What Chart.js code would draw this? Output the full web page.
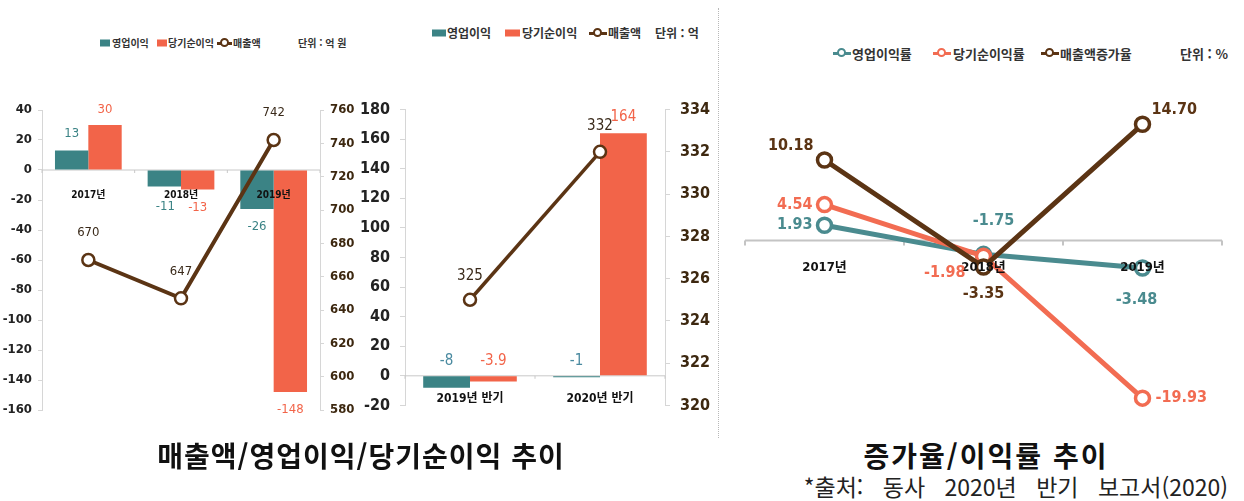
<!DOCTYPE html>
<html lang="ko">
<head>
<meta charset="utf-8">
<script src="https://cdn.jsdelivr.net/npm/chart.js@4"></script>
<style>
  body { margin: 0; background: #fff; }
  #page { position: relative; width: 1244px; height: 501px; overflow: hidden; background: #fff; }
  .box { position: absolute; }
  .lg { position: absolute; font-family: "Noto Sans CJK KR", sans-serif; font-weight: bold; color: #333;
        white-space: nowrap; line-height: 1; transform: translateY(-50%); }
  .sq { position: absolute; height: 7px; transform: translateY(-50%); }
  .lm { position: absolute; width: 18px; height: 12px; transform: translateY(-50%); }
  .lm::before { content: ""; position: absolute; left: 0; right: 0; top: 50%; height: 3px; margin-top: -1.5px; background: var(--c); }
  .lm::after { content: ""; position: absolute; left: 50%; top: 50%; width: 5px; height: 5px; margin: -5px 0 0 -5px;
               border: 2.5px solid var(--c); border-radius: 50%; background: #fff; }
  .title { position: absolute; font-family: "Noto Sans CJK KR", sans-serif; font-weight: bold; font-size: 28px;
           color: #111; text-align: center; line-height: 1; }
  #src { position: absolute; right: 16px; top: 475px; font-family: "Noto Sans CJK KR", sans-serif; font-size: 23px;
         color: #222; line-height: 1; word-spacing: 13px; white-space: nowrap; }
  #sep { position: absolute; left: 718px; top: 8px; height: 430px; border-left: 1px dotted #b8b8b8; }
</style>
</head>
<body>
<div id="page">
  <!-- left chart legend -->
  <div class="sq" style="left:100px;top:43px;width:10px;background:#3b8385"></div>
  <div class="lg" style="left:112px;top:43px;font-size:10px">영업이익</div>
  <div class="sq" style="left:157px;top:43px;width:10px;background:#f26449"></div>
  <div class="lg" style="left:168px;top:43px;font-size:10px">당기순이익</div>
  <div class="lm" style="left:217px;top:43px;width:15px;--c:#5b3414"></div>
  <div class="lg" style="left:233px;top:43px;font-size:10px">매출액</div>
  <div class="lg" style="left:298px;top:43px;font-size:10px">단위 : 억 원</div>

  <!-- middle chart legend -->
  <div class="sq" style="left:432px;top:33px;width:14px;background:#3b8385"></div>
  <div class="lg" style="left:447px;top:33px;font-size:12px">영업이익</div>
  <div class="sq" style="left:505px;top:33px;width:15px;background:#f26449"></div>
  <div class="lg" style="left:522px;top:33px;font-size:12px">당기순이익</div>
  <div class="lm" style="left:589px;top:33px;--c:#5b3414"></div>
  <div class="lg" style="left:608px;top:33px;font-size:12px">매출액</div>
  <div class="lg" style="left:655px;top:33px;font-size:12px">단위 : 억</div>

  <!-- right chart legend -->
  <div class="lm" style="left:833px;top:53px;--c:#4a8b8f"></div>
  <div class="lg" style="left:852px;top:53px;font-size:13px">영업이익률</div>
  <div class="lm" style="left:933px;top:53px;--c:#f26c52"></div>
  <div class="lg" style="left:953px;top:53px;font-size:13px">당기순이익률</div>
  <div class="lm" style="left:1041px;top:53px;--c:#5b3414"></div>
  <div class="lg" style="left:1060px;top:53px;font-size:13px">매출액증가율</div>
  <div class="lg" style="left:1180px;top:53px;font-size:13px">단위 : %</div>

  <div class="box" style="left:0;top:90px;width:360px;height:335px"><canvas id="leftChart"></canvas></div>
  <div class="box" style="left:350px;top:90px;width:370px;height:335px"><canvas id="midChart"></canvas></div>
  <div class="box" style="left:720px;top:90px;width:524px;height:335px"><canvas id="rateChart"></canvas></div>

  <div id="sep"></div>
  <div class="title" style="left:0;top:441px;width:722px;letter-spacing:1px">매출액/영업이익/당기순이익 추이</div>
  <div class="title" style="left:726px;top:441px;width:520px;letter-spacing:2px">증가율/이익률 추이</div>
  <div id="src">*출처: 동사 2020년 반기 보고서(2020)</div>
</div>

<script>
// ---- data ----
const leftCats = ["2017년", "2018년", "2019년"];
const leftOpProfit = [13, -11, -26];
const leftNetProfit = [30, -13, -148];
const leftSales = [670, 647, 742];

const midCats = ["2019년 반기", "2020년 반기"];
const midOpProfit = [-8, -1];
const midNetProfit = [-3.9, 164];
const midSales = [325, 332];

const rateCats = ["2017년", "2018년", "2019년"];
const opMargin = [1.93, -1.75, -3.48];
const netMargin = [4.54, -1.98, -19.93];
const salesGrowth = [10.18, -3.35, 14.70];

const TEAL = "#3b8385";
const RED = "#f26449";
const BROWN = "#5b3414";
const NARROW = "'Liberation Sans Narrow', 'DejaVu Sans Condensed', 'Noto Sans CJK KR', sans-serif";

Chart.defaults.animation = false;
Chart.defaults.font.family = NARROW;

// value labels next to bars / points
const valueLabels = {
  id: "valueLabels",
  afterDatasetsDraw(chart) {
    const ctx = chart.ctx;
    chart.data.datasets.forEach((ds, i) => {
      const lab = ds.valueLabel;
      if (!lab) return;
      const meta = chart.getDatasetMeta(i);
      meta.data.forEach((el, j) => {
        const [dx, dy, align, anchor] = lab.place[j];
        let y = el.y;
        if (anchor === "top") y = Math.min(el.y, el.base);
        if (anchor === "bottom") y = Math.max(el.y, el.base);
        ctx.save();
        ctx.font = lab.font;
        ctx.fillStyle = lab.color;
        ctx.textAlign = align || "center";
        ctx.textBaseline = "middle";
        const v = ds.data[j];
        ctx.fillText(lab.fmt ? lab.fmt(v) : String(v), el.x + dx, y + dy);
        ctx.restore();
      });
    });
  }
};

// zero axis line under the marks, category labels on top of them
const zeroAxis = {
  id: "zeroAxis",
  beforeDatasetsDraw(chart, args, opts) {
    const ctx = chart.ctx;
    const y0 = chart.scales.y.getPixelForValue(0);
    const { left, right } = chart.chartArea;
    const n = chart.data.labels.length;
    const w = (right - left) / n;
    ctx.save();
    ctx.strokeStyle = opts.lineColor;
    ctx.lineWidth = opts.lineWidth;
    ctx.beginPath();
    ctx.moveTo(left, y0);
    ctx.lineTo(right, y0);
    for (let i = 0; i <= n; i++) {
      ctx.moveTo(left + w * i, y0);
      ctx.lineTo(left + w * i, y0 + opts.tick);
    }
    ctx.stroke();
    ctx.restore();
  },
  afterDatasetsDraw(chart, args, opts) {
    const ctx = chart.ctx;
    const x = chart.scales.x;
    const y0 = chart.scales.y.getPixelForValue(0);
    ctx.save();
    ctx.font = opts.font;
    ctx.fillStyle = "#111";
    ctx.textAlign = "center";
    ctx.textBaseline = "middle";
    chart.data.labels.forEach((l, i) => {
      ctx.fillText(l, x.getPixelForValue(i), y0 + opts.offset);
    });
    ctx.restore();
  }
};

function lineDs(label, data, color, axis, extra) {
  return Object.assign({
    type: "line", label, data, yAxisID: axis,
    borderColor: color, borderWidth: 4,
    pointRadius: 6, pointBorderWidth: 2.5, pointBackgroundColor: "#fff", pointBorderColor: color,
    clip: false, order: 0
  }, extra);
}

function barDs(label, data, color, extra) {
  return Object.assign({
    type: "bar", label, data, yAxisID: "y", backgroundColor: color,
    categoryPercentage: 0.72, barPercentage: 1, order: 1
  }, extra);
}

function sideAxis(pos, min, max, step, width, font, color, pad, tickLen) {
  return {
    position: pos, min, max,
    afterFit: s => { s.width = width; },
    ticks: { stepSize: step, font, color, padding: pad },
    grid: { drawOnChartArea: false, tickLength: tickLen, tickColor: "#d6d6d6" },
    border: { color: "#d6d6d6" }
  };
}

// ---- left: 매출액/영업이익/당기순이익 (연도) ----
new Chart(document.getElementById("leftChart"), {
  data: {
    labels: leftCats,
    datasets: [
      lineDs("매출액", leftSales, BROWN, "y1", {
        valueLabel: { color: "#3a2a1a", font: "13px " + NARROW, place: [[0, -27], [0, -27], [0, -27]] }
      }),
      barDs("영업이익", leftOpProfit, TEAL, {
        valueLabel: { color: "#3b8385", font: "13px " + NARROW,
          place: [[0, -17, "center", "top"], [1, 20, "center", "bottom"], [0, 18, "center", "bottom"]] }
      }),
      barDs("당기순이익", leftNetProfit, RED, {
        valueLabel: { color: "#f26449", font: "13px " + NARROW,
          place: [[0, -15, "center", "top"], [0, 18, "center", "bottom"], [0, 18, "center", "bottom"]] }
      })
    ]
  },
  options: {
    responsive: true, maintainAspectRatio: false,
    layout: { padding: { top: 20, bottom: 15, left: 0, right: 0 } },
    scales: {
      x: { display: false },
      y: sideAxis("left", -160, 40, 20, 42, { size: 13, weight: "bold" }, "#222", 6, 4),
      y1: sideAxis("right", 580, 760, 20, 40, { size: 13, weight: "bold" }, "#3d2810", 6, 4)
    },
    plugins: {
      legend: { display: false }, tooltip: { enabled: false },
      zeroAxis: { lineColor: "#c8c8c8", lineWidth: 1, tick: 3, offset: 25, font: "bold 10px " + NARROW }
    }
  },
  plugins: [zeroAxis, valueLabels]
});

// ---- middle: 반기 ----
new Chart(document.getElementById("midChart"), {
  data: {
    labels: midCats,
    datasets: [
      lineDs("매출액", midSales, BROWN, "y1", {
        borderWidth: 3.5,
        valueLabel: { color: "#3a2a1a", font: "15px " + NARROW, place: [[0, -24], [0, -26]] }
      }),
      barDs("영업이익", midOpProfit, TEAL, {
        valueLabel: { color: "#4a8aa0", font: "15px " + NARROW,
          place: [[0, -15, "center", "top"], [0, -15, "center", "top"]] }
      }),
      barDs("당기순이익", midNetProfit, RED, {
        valueLabel: { color: "#f26449", font: "15px " + NARROW,
          place: [[0, -15, "center", "top"], [0, -16, "center", "top"]] }
      })
    ]
  },
  options: {
    responsive: true, maintainAspectRatio: false,
    layout: { padding: { top: 17, bottom: 17, left: 0, right: 0 } },
    scales: {
      x: { display: false },
      y: sideAxis("left", -20, 180, 20, 55, { size: 16, weight: "bold" }, "#222", 10, 5),
      y1: sideAxis("right", 320, 334, 2, 55, { size: 16, weight: "bold" }, "#3d2810", 10, 5)
    },
    plugins: {
      legend: { display: false }, tooltip: { enabled: false },
      zeroAxis: { lineColor: "#c8c8c8", lineWidth: 1, tick: 3, offset: 23, font: "bold 12px " + NARROW }
    }
  },
  plugins: [zeroAxis, valueLabels]
});

// ---- right: 증가율/이익률 ----
const rateFont = "bold 16px " + NARROW;
new Chart(document.getElementById("rateChart"), {
  type: "line",
  data: {
    labels: rateCats,
    datasets: [
      lineDs("매출액증가율", salesGrowth, BROWN, "y", {
        borderWidth: 5, pointRadius: 7, pointBorderWidth: 3.5, order: 0,
        valueLabel: { color: "#5b3414", font: rateFont, fmt: v => v.toFixed(2),
          place: [[-11, -14, "right"], [0, 27, "center"], [9, -14, "left"]] }
      }),
      lineDs("당기순이익률", netMargin, "#f26c52", "y", {
        borderWidth: 5, pointRadius: 7, pointBorderWidth: 3.5, order: 1,
        valueLabel: { color: "#f26c52", font: rateFont, fmt: v => v.toFixed(2),
          place: [[-12, 0, "right"], [-18, 17, "right"], [13, 0, "left"]] }
      }),
      lineDs("영업이익률", opMargin, "#4a8b8f", "y", {
        borderWidth: 5, pointRadius: 7, pointBorderWidth: 3.5, order: 2,
        valueLabel: { color: "#4a8b8f", font: rateFont, fmt: v => v.toFixed(2),
          place: [[-12, 0, "right"], [10, -34, "center"], [-6, 32, "center"]] }
      })
    ]
  },
  options: {
    responsive: true, maintainAspectRatio: false,
    layout: { padding: { top: 24, bottom: 5, left: 25, right: 22 } },
    scales: {
      x: { display: false, offset: true },
      y: { display: false, min: -22, max: 16 }
    },
    plugins: {
      legend: { display: false }, tooltip: { enabled: false },
      zeroAxis: { lineColor: "#c4c4c4", lineWidth: 2, tick: 5, offset: 27, font: "bold 13px " + NARROW }
    }
  },
  plugins: [zeroAxis, valueLabels]
});
</script>
</body>
</html>
